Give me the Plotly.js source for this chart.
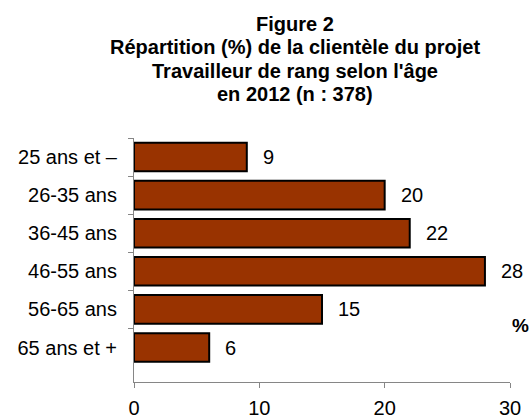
<!DOCTYPE html>
<html>
<head>
<meta charset="utf-8">
<script src="https://cdn.plot.ly/plotly-3.0.1.min.js"></script>
<style>
  html, body { margin: 0; padding: 0; background: #ffffff; }
  #chart { width: 532px; height: 418px; }
</style>
</head>
<body>
<div id="chart"></div>
<script>
// Age groups and share of clients (%)
const ageGroups = ['25 ans et –', '26-35 ans', '36-45 ans', '46-55 ans', '56-65 ans', '65 ans et +'];
const shares = [9, 20, 22, 28, 15, 6];
const xTicks = [0, 10, 20, 30];
const titleLines = [
  'Figure 2',
  'Répartition (%) de la clientèle du projet',
  'Travailleur de rang selon l\'âge',
  'en 2012 (n : 378)'
];

const FONT = 'Arial, "Liberation Sans", sans-serif';
const AXIS_GREY = '#868686';
const W = 532, H = 418;
const M = { l: 134, r: 22, t: 138, b: 36 };
const plotH = H - M.t - M.b;
const plotW = W - M.l - M.r;

const bars = {
  type: 'bar',
  orientation: 'h',
  x: shares,
  y: ageGroups,
  marker: { color: '#993300', line: { color: '#000000', width: 2 } },
  hoverinfo: 'x+y',
  showlegend: false
};

// value labels to the right of each bar
const valueLabels = shares.map((v, i) => ({
  x: v,
  y: ageGroups[i],
  xref: 'x',
  yref: 'y',
  text: String(v),
  showarrow: false,
  xanchor: 'left',
  yanchor: 'middle',
  xshift: 14,
  font: { size: 20, color: '#000000', family: FONT }
}));

// title drawn line by line (tighter line spacing than plotly's <br>)
const titleNotes = titleLines.map((t, i) => ({
  x: (295 - M.l) / plotW,
  y: 1 + (M.t - (24 + i * 23.3)) / plotH,
  xref: 'paper',
  yref: 'paper',
  text: '<b>' + t + '</b>',
  showarrow: false,
  xanchor: 'center',
  yanchor: 'middle',
  font: { size: 20, color: '#000000', family: FONT }
}));

const layout = {
  width: W,
  height: H,
  paper_bgcolor: '#ffffff',
  plot_bgcolor: '#ffffff',
  font: { family: FONT, color: '#000000', size: 20 },
  margin: M,
  bargap: 0.25,
  xaxis: {
    range: [0, 30],
    tickvals: xTicks,
    ticks: 'outside',
    ticklen: 5,
    tickcolor: AXIS_GREY,
    showline: true,
    linecolor: AXIS_GREY,
    linewidth: 1,
    showgrid: false,
    zeroline: false,
    automargin: false,
    ticklabelstandoff: 3,
    tickfont: { size: 20, family: FONT, color: '#000000' },
    fixedrange: true
  },
  yaxis: {
    type: 'category',
    autorange: 'reversed',
    tickson: 'boundaries',
    ticks: 'outside',
    ticklen: 5,
    tickcolor: AXIS_GREY,
    showline: true,
    linecolor: AXIS_GREY,
    linewidth: 1,
    showgrid: false,
    zeroline: false,
    automargin: false,
    ticklabelstandoff: 12,
    tickfont: { size: 20, family: FONT, color: '#000000' },
    fixedrange: true
  },
  annotations: valueLabels.concat(titleNotes, [{
    x: 1,
    y: ageGroups[ageGroups.length - 1],
    xref: 'paper',
    yref: 'y',
    text: '<b>%</b>',
    showarrow: false,
    xanchor: 'left',
    yanchor: 'middle',
    yshift: 22,
    font: { size: 19, family: FONT, color: '#000000' }
  }])
};

Plotly.newPlot('chart', [bars], layout, { displayModeBar: false, staticPlot: true });
</script>
</body>
</html>
